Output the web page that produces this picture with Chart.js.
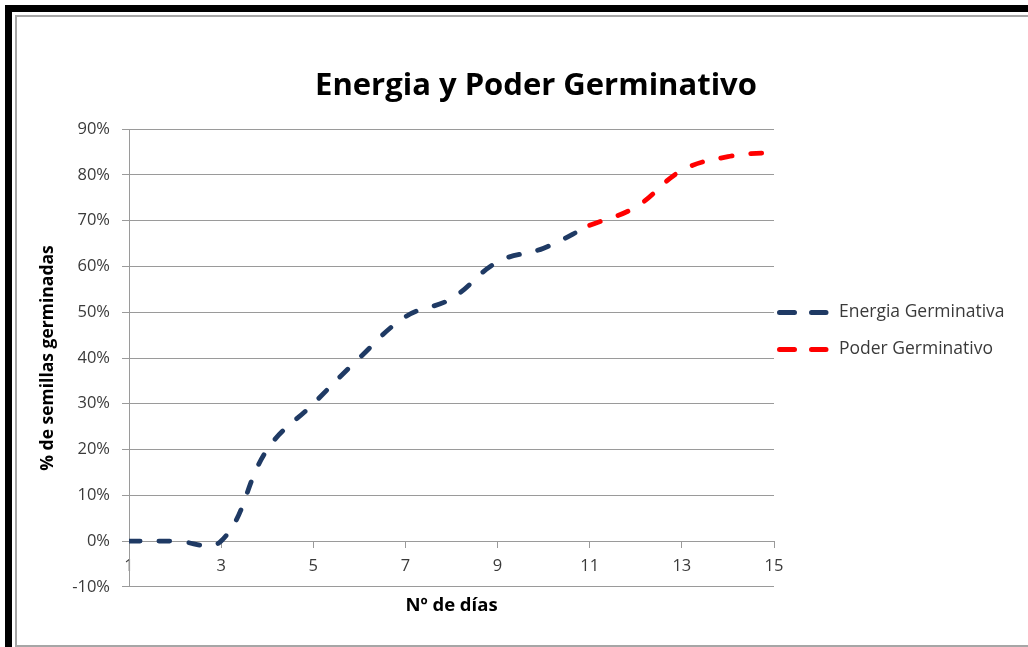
<!DOCTYPE html>
<html>
<head>
<meta charset="utf-8">
<script src="https://cdn.jsdelivr.net/npm/chart.js@4.4.1/dist/chart.umd.min.js"></script>
<style>
  html, body { margin: 0; padding: 0; background: #fff; }
  body { width: 1028px; height: 647px; overflow: hidden; position: relative; }
  .black { position: absolute; left: 5px; top: 5px; width: 1100px; height: 700px;
           border-top: 7px solid #000; border-left: 7px solid #000; }
  .gray  { position: absolute; left: 15px; top: 15px; width: 1100px; height: 628px;
           border: 2px solid #a6a6a6; border-right: none; background: #fff; }
  .wrap  { position: absolute; left: 17px; top: 17px; width: 1011px; height: 628px; }
</style>
</head>
<body>
<div class="black"></div>
<div class="gray"></div>
<div class="wrap"><canvas id="germChart"></canvas></div>
<script>
/* Energia y Poder Germinativo */
const DAYS = [1, 2, 3, 4, 5, 6, 7, 8, 9, 10, 11, 12, 13, 14, 15];
const ENERGIA = [0, 0, 0, 20, 30, 40, 49, 53, 61, 64, 69, null, null, null, null];
const PODER = [null, null, null, null, null, null, null, null, null, null, 69, 73, 81, 84, 85];
const X_TICKS = [1, 3, 5, 7, 9, 11, 13, 15];
const Y_TICKS = [-10, 0, 10, 20, 30, 40, 50, 60, 70, 80, 90];

const NAVY = '#1f3a64';
const RED = '#ff0000';
const GRID = '#9a9a9a';
const TEXT = '#3a3a3a';
const FONT = "'Open Sans'";

Chart.defaults.font.family = FONT;

function toPoints(values) {
  return DAYS.map((d, i) => ({ x: d, y: values[i] }));
}

function lineSet(label, values, color) {
  return {
    label,
    data: toPoints(values),
    borderColor: color,
    backgroundColor: color,
    borderWidth: 4.8,
    borderDash: [11, 19],
    borderCapStyle: 'round',
    pointRadius: 0,
    tension: 0.4,
    fill: false,
  };
}

// legend drawn to the right of the plot, like the spreadsheet one
const sideLegend = {
  id: 'sideLegend',
  afterDraw(chart) {
    const { ctx, chartArea } = chart;
    const sets = chart.data.datasets;
    const gap = 37;
    const yMid = chart.height / 2;
    const x0 = chartArea.right + 3;
    ctx.save();
    sets.forEach((ds, i) => {
      const y = yMid + (i - (sets.length - 1) / 2) * gap;
      ctx.strokeStyle = ds.borderColor;
      ctx.lineWidth = 5;
      ctx.lineCap = 'round';
      ctx.setLineDash([15, 17]);
      ctx.beginPath();
      ctx.moveTo(x0 + 2.5, y);
      ctx.lineTo(x0 + 49, y);
      ctx.stroke();
      ctx.setLineDash([]);
      ctx.fillStyle = TEXT;
      ctx.font = "17.5px " + FONT;
      ctx.textBaseline = 'middle';
      ctx.fillText(ds.label, x0 + 62, y);
    });
    ctx.restore();
  },
};

const germChart = new Chart(document.getElementById('germChart'), {
  type: 'line',
  data: {
    datasets: [
      lineSet('Energia Germinativa', ENERGIA, NAVY),
      lineSet('Poder Germinativo', PODER, RED),
    ],
  },
  plugins: [sideLegend],
  options: {
    responsive: true,
    maintainAspectRatio: false,
    animation: false,
    layout: { padding: { left: 27, top: 0, right: 0, bottom: 0 } },
    plugins: {
      legend: { display: false },
      tooltip: { enabled: false },
      title: {
        display: true,
        text: 'Energia y Poder Germinativo',
        color: '#000',
        font: { size: 31, weight: 'bold' },
        padding: { top: 51, bottom: 24 },
      },
      subtitle: {
        display: true,
        position: 'bottom',
        fullSize: false,
        text: 'Nº de días',
        color: '#000',
        font: { size: 18.5, weight: 'bold' },
        padding: { top: 8, bottom: 28 },
      },
    },
    scales: {
      x: {
        type: 'linear',
        position: { y: 0 },
        min: 1,
        max: 15,
        afterBuildTicks: s => { s.ticks = X_TICKS.map(v => ({ value: v })); },
        grid: { drawOnChartArea: false, drawTicks: true, tickLength: 6, color: GRID },
        border: { color: GRID },
        ticks: { color: TEXT, font: { size: 16.5 }, padding: 9, maxRotation: 0 },
      },
      y: {
        min: -10,
        max: 90,
        afterBuildTicks: s => { s.ticks = Y_TICKS.map(v => ({ value: v })); },
        afterFit: s => { s.width = 85; },
        grid: { color: GRID, tickLength: 7 },
        border: { color: GRID },
        ticks: { color: TEXT, font: { size: 16.5 }, padding: 12, callback: v => v + '%' },
        title: {
          display: true,
          text: '% de semillas germinadas',
          color: '#000',
          font: { size: 17.5, weight: 'bold' },
          padding: { top: -6, bottom: 0 },
        },
      },
      yRight: {
        type: 'linear',
        position: 'right',
        display: true,
        grid: { display: false },
        border: { display: false },
        ticks: { display: false },
        afterFit: s => { s.width = 254; },
      },
    },
  },
});
</script>
</body>
</html>
